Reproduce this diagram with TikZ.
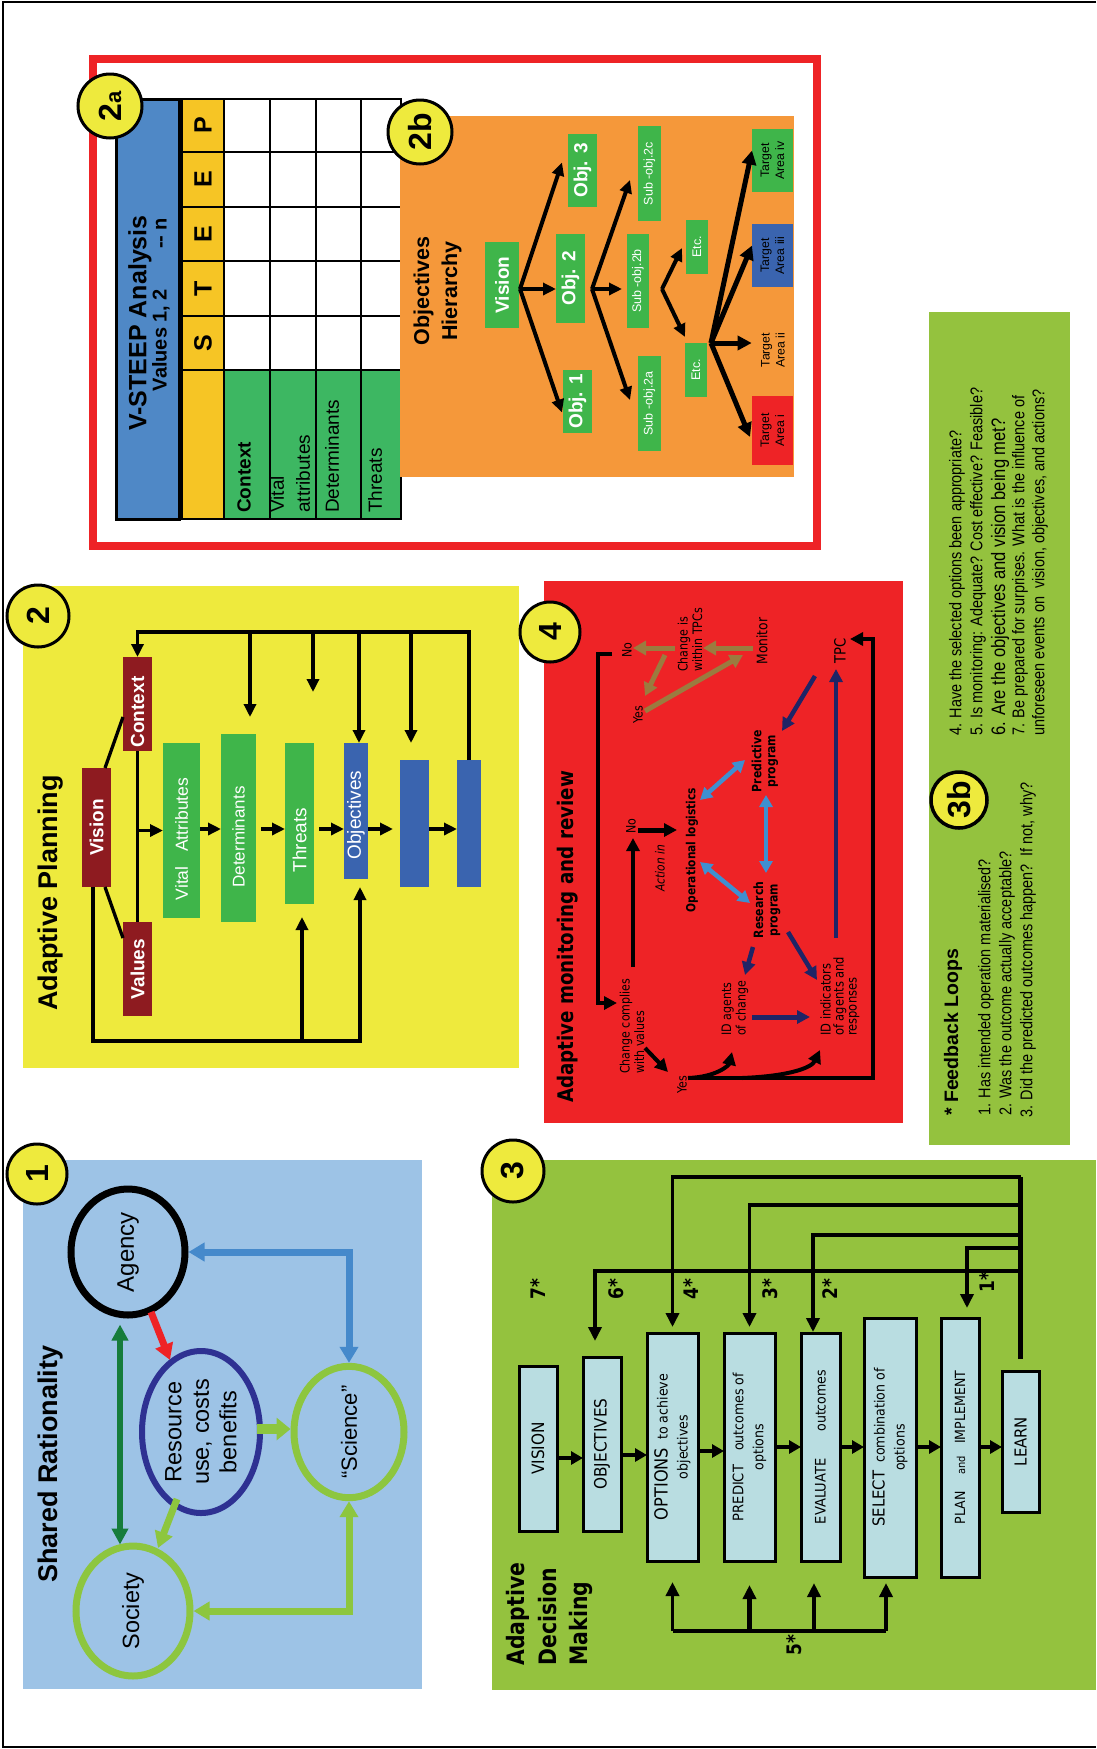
\documentclass[tikz,border=0pt]{standalone}
\usepackage{fontspec}
\setmainfont{Liberation Sans}
\newfontfamily\dvc[FakeStretch=0.85]{DejaVu Sans}
\newfontfamily\dvb[FakeStretch=0.9]{DejaVu Sans}
\newfontfamily\nar[FakeStretch=0.85]{Liberation Sans}
\usetikzlibrary{arrows.meta,calc,shapes.geometric}
\newcommand\fsz[2]{\fontsize{#1}{#2}\selectfont}

\definecolor{cred}{HTML}{EE2326}
\definecolor{cblue}{HTML}{4F88C6}
\definecolor{cgold}{HTML}{F6C525}
\definecolor{cgreen}{HTML}{3DB762}
\definecolor{corange}{HTML}{F5983A}
\definecolor{bgreen}{HTML}{3FB54A}
\definecolor{tblue}{HTML}{3A64AF}
\definecolor{cyellow}{HTML}{EEEA3D}
\definecolor{dred}{HTML}{8E1B20}
\definecolor{pblue}{HTML}{9DC3E6}
\definecolor{navy}{HTML}{2E3192}
\definecolor{lgreen}{HTML}{8DC63F}
\definecolor{dgreen}{HTML}{167C3B}
\definecolor{ablue}{HTML}{4589CB}
\definecolor{pgreen}{HTML}{94C23E}
\definecolor{lblue}{HTML}{B9DDE1}
\definecolor{mbrown}{HTML}{9B7B3F}
\definecolor{dnavy}{HTML}{1F2466}
\definecolor{sblue}{HTML}{3F8FD0}

\tikzset{
  rot/.style={rotate=90},
  pbox/.style 2 args={rotate=90, minimum width=#2pt, minimum height=#1pt, inner sep=0pt, outer sep=0pt},
  badge/.style={circle, draw, line width=3pt, fill=cyellow, inner sep=0pt, rotate=90, font=\bfseries\fsz{32}{32}},
  gb/.style={fill=bgreen, text=white},
  harr/.style={line width=4pt, ->, >={Triangle[length=13pt,width=12pt]}},
  tarr/.style={line width=5pt, ->, >={Triangle[length=14pt,width=14pt]}},
  pline/.style={line width=3.3pt},
  parr/.style={line width=3.3pt, ->, >={Triangle[length=13pt,width=12pt]}},
  mt/.style={rot, inner sep=1pt, font=\dvc\fsz{13}{14.5}},
  mb/.style={mbrown, line width=5pt, ->, >={Triangle[length=13pt,width=14pt]}},
  mn/.style={dnavy, line width=4.5pt, ->, >={Triangle[length=13pt,width=13pt]}},
  ms/.style={sblue, line width=4.5pt, <->, >={Triangle[length=12pt,width=13pt]}},
  mk/.style={black, line width=4pt, ->, >={Triangle[length=13pt,width=13pt]}},
  ell/.style={ellipse, rotate=90, inner sep=0pt},
  darr/.style={line width=4pt, ->, >={Triangle[length=12pt,width=13pt]}},
  fb/.style={line width=3.5pt, ->, >={Triangle[length=14pt,width=13pt]}},
  db/.style 2 args={pbox={#1}{#2}, fill=lblue, draw, line width=3pt, align=center, font=\dvb\fsz{14}{20}},
  ft/.style={rot, anchor=west, inner sep=0pt, font=\nar\fsz{17}{17}},
}

\begin{document}
\begin{tikzpicture}[x=1pt,y=-1pt]
\useasboundingbox (0,0) rectangle (1096,1749);
\fill[white] (0,0) rectangle (1096,1749);
\draw[line width=2.5pt] (1096,2) -- (3,2) -- (3,1747) -- (1096,1747);

%% ---------- 2a: V-STEEP table ----------
\draw[cred, line width=8pt] (93,58.5) rectangle (816.5,546);
\node[pbox={63}{420}, fill=cblue, draw, line width=3pt] (vst) at (147.5,309) {};
\node[rot, font=\bfseries\fsz{25}{25}] (vsttl) at (140,323) {V-STEEP Analysis};
\node[rot, font=\bfseries\fsz{20}{20}] (vstval) at (161,304.5) {Values 1, 2\hspace{40pt}-{}- n};
\fill[cgold] (182,99) rectangle (224,519);
\fill[white] (224,99) rectangle (401,370);
\fill[cgreen] (224,370) rectangle (401,519);
\foreach \xx in {182,224,270,316,361,401} \draw[line width=2.5pt, line cap=rect] (\xx,99) -- (\xx,519);
\foreach \yy in {99,152,207,261,316,370,519} \draw[line width=2.5pt, line cap=rect] (182,\yy) -- (401,\yy);
\foreach \l/\yy [count=\i] in {P/125.5,E/179.5,E/234,T/288.5,S/343}
  \node[rot, font=\bfseries\fsz{25}{25}] (st\i) at (203,\yy) {\l};
\node[rot, anchor=west, inner sep=0pt, font=\bfseries\fsz{19}{19}] (tctx) at (244,513) {Context};
\node[rot, anchor=west, inner sep=0pt, align=left, font=\fsz{19}{26}] (tvit) at (290,513) {Vital\\attributes};
\node[rot, anchor=west, inner sep=0pt, font=\fsz{19}{19}] (tdet) at (332,513) {Determinants};
\node[rot, anchor=west, inner sep=0pt, font=\fsz{19}{19}] (tthr) at (375,513) {Threats};

%% ---------- 2b: objectives hierarchy ----------
\fill[corange] (400,116) rectangle (794,477);
\node[rot, align=center, font=\bfseries\fsz{21.5}{28}] (ohh) at (437.5,291) {Objectives\\Hierarchy};
\node[pbox={34}{86}, gb, font=\bfseries\fsz{19}{19}] (hv) at (502,285) {Vision};
\node[pbox={29}{89}, gb, font=\bfseries\fsz{19}{19}] (ho2) at (570.5,278.5) {Obj. 2};
\node[pbox={29}{73}, gb, font=\bfseries\fsz{19}{19}] (ho3) at (582.5,170.5) {Obj. 3};
\node[pbox={29}{63}, gb, font=\bfseries\fsz{19}{19}] (ho1) at (577.5,401.5) {Obj. 1};
\node[pbox={23}{95}, gb, font=\fsz{12.5}{12.5}] (hs2c) at (649.5,173.5) {Sub -obj.2c};
\node[pbox={22}{94}, gb, font=\fsz{12.5}{12.5}] (hs2b) at (638,281) {Sub -obj.2b};
\node[pbox={23}{95}, gb, font=\fsz{12.5}{12.5}] (hs2a) at (649.5,403.5) {Sub -obj.2a};
\node[pbox={22}{54}, gb, font=\fsz{12.5}{12.5}] (he1) at (697,247) {Etc.};
\node[pbox={22}{54}, gb, font=\fsz{12.5}{12.5}] (he2) at (696,370) {Etc.};
\node[pbox={41}{63}, fill=bgreen, align=center, font=\fsz{12.3}{15}] (ht4) at (772.5,160.5) {Target\\Area iv};
\node[pbox={41}{63}, fill=tblue, align=center, font=\fsz{12.3}{15}] (ht3) at (772.5,255.5) {Target\\Area iii};
\node[rot, align=center, font=\fsz{12.3}{15}] (ht2) at (773,350) {Target\\Area ii};
\node[pbox={41}{69}, fill=cred, align=center, font=\fsz{12.3}{15}] (ht1) at (772.5,430.5) {Target\\Area i};

\coordinate (fv) at ($(hv.south)+(1,4)$);
\coordinate (f2) at ($(ho2.south)+(7,10.5)$);
\coordinate (fbb) at ($(hs2b.south)+(13,8)$);
\coordinate (fe) at ($(he2.south east)+(4,0)$);
\draw[harr] (fv) -- ($(ho3.north)+(-6,-8)$);
\draw[harr] (fv) -- (fv -| ho2.north);
\draw[harr] (fv) -- ($(ho1.north)+(-1,11)$);
\draw[harr] (f2) -- ($(hs2c.north)+(-8,6.5)$);
\draw[harr, shorten >=5pt] (f2) -- (f2 -| hs2b.north);
\draw[harr] (f2) -- ($(hs2a.north)+(-8,-3.5)$);
\draw[harr] (fbb) -- ($(he1.north)+(-4,1)$);
\draw[harr] (fbb) -- ($(he2.north east)+(0,-6)$);
\draw[tarr] (fe) -- ($(ht4.north)+(0,-10)$);
\draw[tarr] (fe) -- ($(ht3.north)+(0,-10)$);
\draw[tarr] (fe) -- ($(ht2.north)+(-6,-7)$);
\draw[tarr] (fe) -- ($(ht1.north)+(-2,6.5)$);

\node[badge, minimum size=64pt] (b2a) at (110,106) {2{\fsz{22}{22}a}};
\node[badge, minimum size=64pt] (b2b) at (420,132) {2b};

%% ---------- 2: adaptive planning ----------
\fill[cyellow] (23,586) rectangle (519,1068);
\node[badge, minimum size=62pt] (b2) at (38,616) {2};
\node[rot, font=\bfseries\fsz{27}{27}] (apt) at (51,893) {Adaptive Planning};
\node[pbox={29}{119}, fill=dred, text=white, font=\bfseries\fsz{19}{19}] (pvis) at (96.5,827.5) {Vision};
\node[pbox={29}{94}, fill=dred, text=white, font=\bfseries\fsz{19}{19}] (pctx) at (137.5,704) {Context\hspace*{16pt}};
\node[pbox={29}{94}, fill=dred, text=white, font=\bfseries\fsz{19}{19}] (pval) at (137.5,969) {Values};
\node[pbox={37}{175}, fill=bgreen, text=white, font=\fsz{17.5}{17.5}] (pva) at (181.5,830.5) {Vital\ \ \ Attributes\hspace*{17pt}};
\node[pbox={35}{188}, fill=bgreen, text=white, font=\fsz{17}{17}] (pdet) at (238.5,828) {Determinants\hspace*{18pt}};
\node[pbox={29}{161}, fill=bgreen, text=white, font=\fsz{19}{19}] (pthr) at (299.5,823.5) {Threats\hspace*{33pt}};
\node[pbox={24}{136}, fill=tblue, text=white, font=\fsz{19}{19}] (pobj) at (356,811) {Objectives\hspace*{8pt}};
\node[pbox={29}{127}, fill=tblue] (pb2) at (414.5,823.5) {};
\node[pbox={24}{127}, fill=tblue] (pb3) at (469,823.5) {};

\draw[pline] ($(pvis.south east)+(-6,0)$) -- ($(pctx.north)+(0,13)$);
\draw[pline] ($(pvis.south west)+(-6,0)$) -- ($(pval.north)+(0,-31)$);
\draw[pline] (pctx.west) -- (pval.east);
\draw[parr] (pctx.west |- pva.north) -- (pva.north);
\coordinate (py) at (0,829);
\draw[parr] (pva.south |- py) -- (pdet.north |- py);
\draw[parr] ($(pdet.south |- py)+(5,0)$) -- (pthr.north |- py);
\draw[parr] ($(pthr.south |- py)+(5,0)$) -- (pobj.north |- py);
\draw[parr] (pobj.south |- py) -- ($(pb2.north |- py)+(-7,0)$);
\draw[parr] (pb2.south |- py) -- (pb3.north |- py);
\coordinate (ptop) at (0,632);
\draw[parr] (pb3.east) -- (pb3.east |- ptop) -- (pctx.east |- ptop) -- (pctx.east);
\draw[parr] ($(pdet.east |- ptop)+(11.5,0)$) -- ($(pdet.east)+(11.5,-17)$);
\draw[parr] ($(pthr.east |- ptop)+(13.5,0)$) -- ($(pthr.east)+(13.5,-51)$);
\draw[parr] ($(pobj.east |- ptop)+(3,0)$) -- ($(pobj.east)+(3,0)$);
\draw[parr] ($(pb2.east |- ptop)+(-3.5,0)$) -- ($(pb2.east)+(-3.5,-17)$);
\coordinate (pbot) at (0,1041);
\draw[parr] ($(pvis.west)+(-3.5,0)$) -- ($(pvis.west |- pbot)+(-3.5,0)$) -- ($(pobj.west |- pbot)+(4,0)$) -- ($(pobj.west)+(4,8)$);
\draw[parr] ($(pthr.west |- pbot)+(2.5,0)$) -- ($(pthr.west)+(2.5,13)$);

%% ---------- 4: adaptive monitoring and review ----------
\fill[cred] (544,581) rectangle (903,1123);
\node[rot, font=\dvc\bfseries\fsz{21.5}{21.5}] (amr) at (568,937) {Adaptive monitoring and review};
\node[mt] (mno1) at (627,650) {No};
\node[mt, anchor=west, align=left] (mcw) at (690,673) {Change is\\within TPCs};
\node[mt, font=\dvc\fsz{14.5}{15}] (mmon) at (762,641) {Monitor};
\node[mt] (myes1) at (638,715) {Yes};
\node[mt, font=\dvc\fsz{15.5}{16}] (mtpc) at (840,651) {TPC};
\node[mt, font=\dvc\bfseries\fsz{12.8}{14}, align=center] (mpred) at (765,761) {Predictive\\program};
\node[mt, font=\dvc\bfseries\fsz{12.5}{14}] (mop) at (692,850) {Operational logistics};
\node[mt, font=\dvc\bfseries\fsz{12.8}{14.5}, align=center] (mres) at (767,910) {Research\\program};
\node[mt] (mno2) at (631,826) {No};
\node[mt, font=\dvc\itshape\fsz{12.6}{14}] (mact) at (660,868) {Action in};
\node[mt, anchor=west, align=left] (mcc) at (632,1075) {Change complies\\with values};
\node[mt] (myes2) at (682,1085) {Yes};
\node[mt, anchor=west, align=left] (mida) at (735,1037) {ID agents\\of change};
\node[mt, anchor=west, align=left, font=\dvc\fsz{13.5}{13}] (midi) at (840,1037) {ID indicators\\of agents and\\responses};

\draw[mb] ($(mmon)+(-9,7)$) -- ($(mcw.west)+(13,-25)$);
\draw[mb] ($(mcw.west)+(-15,-25)$) -- ($(mno1)+(6,-2)$);
\draw[mb] ($(mcw.west)+(-25,-18)$) -- ($(myes1)+(7,-19)$);
\draw[mb] ($(myes1)+(7,-4)$) -- ($(mmon)+(-19,14)$);
\draw[mn] ($(mtpc)+(-25,25)$) -- ($(mpred)+(17,-30)$);
\draw[mn] ($(mtpc)+(-4,287)$) -- ($(mtpc)+(-4,18)$);
\draw[mn] ($(mres)+(-14,37)$) -- ($(mida.west)+(10,-62)$);
\draw[mn] ($(mres)+(21,22)$) -- ($(midi.west)+(-23,-57)$);
\draw[mn, line width=5pt] ($(mida.west)+(17,-20)$) -- ($(midi.west)+(-30,-20)$);
\draw[ms] ($(mop)+(8,-50)$) -- ($(mpred)+(-20,-1)$);
\draw[ms] ($(mpred)+(1,34)$) -- ($(mres)+(-1,-37)$);
\draw[ms] ($(mop)+(8,12)$) -- ($(mres)+(-17,-7)$);
\draw[mk] ($(mno1)+(-15,4)$) -- ($(mno1)+(-29,4)$) -- ($(mcc.west)+(-34,-72)$) -- ($(mcc.west)+(-15,-72)$);
\draw[mk] ($(mno2)+(2,141)$) -- ($(mno2)+(2,12)$);
\draw[mk, line width=5pt] ($(mno2)+(7,4)$) -- ($(mop)+(-15,-20)$);
\draw[mk] ($(mcc.west)+(13,-27)$) -- ($(myes2)+(-14,-13)$);
\draw[mk] ($(myes2)+(6,-7)$) -- ++(185,0) |- ($(mtpc)+(10,-12)$);
\draw[mk] ($(myes2)+(6,-7)$) .. controls ($(myes2)+(35,-8)$) and ($(myes2)+(47,-20)$) .. ($(mida.west)+(-3,15)$);
\draw[mk] ($(myes2)+(60,-7)$) .. controls ($(myes2)+(110,-9)$) and ($(myes2)+(130,-18)$) .. ($(midi.west)+(-20,13)$);
\node[badge, minimum size=60pt] (b4) at (550,632) {4};

%% ---------- 1: shared rationality ----------
\fill[pblue] (23,1160) rectangle (422,1689);
\node[rot, font=\bfseries\fsz{27}{27}] (srt) at (51,1464) {Shared Rationality};
\node[ell, draw, line width=7pt, minimum width=126pt, minimum height=114pt, font=\fsz{24}{24}] (ag) at (128,1252) {Agency};
\node[ell, draw=navy, line width=6pt, minimum width=162pt, minimum height=118pt, align=center, font=\fsz{23.5}{27.5}] (res) at (201,1432) {Resource\\use, costs\\benefits};
\node[ell, draw=lgreen, line width=7pt, minimum width=130pt, minimum height=110pt, font=\fsz{22}{22}] (sci) at (349,1432) {“Science”};
\node[ell, draw=lgreen, line width=7pt, minimum width=130pt, minimum height=114pt, font=\fsz{23.5}{23.5}] (soc) at (133,1611) {Society};
\draw[dgreen, line width=6pt, <->, >={Triangle[length=16pt,width=16pt]}] ($(ag.west)+(-8,6)$) -- ($(soc.east)+(-13,2)$);
\draw[cred, line width=7pt, ->, >={Triangle[length=16pt,width=18pt]}] ($(ag)+(23,60)$) -- ($(res)+(-31,-72)$);
\draw[ablue, line width=7pt, <->, >={Triangle[length=16pt,width=18pt]}] (ag.south) -| (sci.east);
\draw[lgreen, line width=10pt, ->, >={Triangle[length=14pt,width=22pt]}] ($(res.south)+(-6,-3)$) -- ($(sci.north)+(0,-3)$);
\draw[lgreen, line width=7pt, ->, >={Triangle[length=16pt,width=18pt]}] ($(res)+(-24,67)$) -- ($(soc)+(25,-63)$);
\draw[lgreen, line width=7pt, <->, >={Triangle[length=16pt,width=18pt]}] (sci.west) |- (soc.south);
\node[badge, minimum size=60pt] (b1) at (37,1174) {1};

%% ---------- 3: adaptive decision making ----------
\fill[pgreen] (492,1160) rectangle (1096,1690);
\node[rot, anchor=west, align=left, font=\dvc\bfseries\fsz{24}{31.5}] (adm) at (549.5,1669) {Adaptive\\Decision\\Making};
\foreach \n/\xx/\yy in {7/538/1289,6/616/1289,4/691/1289,3/770/1289,2/830/1289,1/987/1282,5/794/1645}
  \node[rot, font=\dvc\bfseries\fsz{20}{20}] (star\n) at (\xx,\yy) {\n*};
\node[db={38}{165}] (dvis) at (538,1448.5) {\fsz{17}{20}VISION};
\node[db={38}{174}] (dobj) at (602,1444) {\fsz{17}{20}OBJECTIVES};
\node[db={51}{228}] (dopt) at (672.5,1447) {{\fsz{18}{20}OPTIONS}\ \ to achieve\\objectives};
\node[db={51}{228}] (dpre) at (749.5,1447) {{\fsz{14.5}{20}PREDICT}\quad outcomes of\\options};
\node[db={39}{228}] (deva) at (820.5,1447) {{\fsz{14.5}{20}EVALUATE}\hspace{27pt}outcomes};
\node[db={52}{259}] (dsel) at (890,1447.5) {{\fsz{16.5}{20}SELECT}\ \ combination of\\options};
\node[db={38}{259}] (dpla) at (960,1447.5) {PLAN\hspace{17pt}{\fsz{11}{20}and}\hspace{12pt}IMPLEMENT};
\node[db={37}{141}] (dlea) at (1020.5,1441.5) {\fsz{16.5}{20}LEARN};

\foreach \a/\b/\yy in {dvis/dobj/1458,dobj/dopt/1455,dopt/dpre/1451,dpre/deva/1447,deva/dsel/1447,dsel/dpla/1447,dpla/dlea/1447}{
  \coordinate (hy) at (0,\yy);
  \draw[darr] (\a.south |- hy) -- (\b.north |- hy);
}
\coordinate (ty1) at (0,1177);
\coordinate (ty2) at (0,1205);
\coordinate (ty3) at (0,1235);
\coordinate (ty4) at (0,1248);
\coordinate (ty5) at (0,1271);
\coordinate (lt) at ($(dlea.east)+(0,-12)$);
\draw[line width=5pt] (lt) -- (lt |- ty1);
\draw[fb] (lt |- ty1) -| ($(dopt.east)+(0,-6)$);
\draw[fb] (lt |- ty2) -| ($(dpre.east)+(0,-6)$);
\draw[fb] (lt |- ty3) -| ($(deva.east)+(-7.5,-1)$);
\draw[fb] (lt |- ty4) -| ($(dpla.east)+(7,-10)$);
\draw[fb] (lt |- ty5) -| ($(dobj.east)+(-7,-16)$);
\coordinate (by) at (0,1631);
\draw[line width=3.5pt] (dopt.west |- by) -- ($(dsel.west |- by)+(-4,0)$);
\draw[fb] (dopt.west |- by) -- ($(dopt.west)+(0,21)$);
\draw[fb, line width=5pt] (dpre.west |- by) -- ($(dpre.west)+(0,24)$);
\draw[fb] ($(deva.west |- by)+(-6.5,0)$) -- ($(deva.west)+(-6.5,22)$);
\draw[fb] ($(dsel.west |- by)+(-4,0)$) -- ($(dsel.west)+(-4,6)$);
\node[badge, minimum size=62pt] (b3) at (513,1171) {3};

%% ---------- 3b: feedback loops ----------
\fill[pgreen] (929,312) rectangle (1070,1145);
\node[rot, anchor=west, inner sep=0pt, font=\bfseries\fsz{19.5}{19.5}] (fl) at (953,1116) {* Feedback Loops};
\node[ft] (fq1) at (986,1116) {1. Has intended operation materialised?};
\node[ft] (fq2) at (1007,1116) {2. Was the outcome actually acceptable?};
\node[ft] (fq3) at (1028,1118) {3. Did the predicted outcomes happen?\ \ If not, why?};
\node[ft] (fq4) at (957,736) {4. Have the selected options been appropriate?};
\node[ft] (fq5) at (978,736) {5. Is monitoring: Adequate? Cost effective? Feasible?};
\node[ft, font=\nar\fsz{19.5}{19.5}] (fq6) at (1000,736) {6. Are the objectives and vision being met?};
\node[ft] (fq7) at (1020,736) {7. Be prepared for surprises. What is the influence of};
\node[ft] (fq8) at (1040,736) {unforeseen events on\ \ vision, objectives, and actions?};
\node[badge, minimum size=56pt, line width=3.5pt] (b3b) at (959,800) {3b};
\end{tikzpicture}
\end{document}
